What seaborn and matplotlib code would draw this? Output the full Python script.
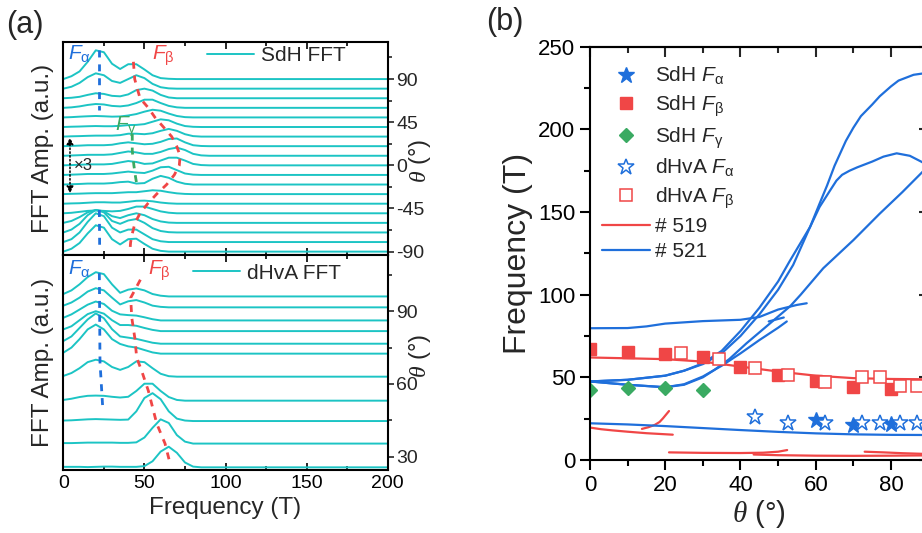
import pandas as pd
import seaborn as sns
import matplotlib.pyplot as plt
from matplotlib.lines import Line2D
from matplotlib.ticker import MultipleLocator

# ---------------- data ----------------
# frequency grid of the traced FFT spectra (T); all traces are flat beyond 90 T
freq = [0, 5, 10, 15, 20, 25, 30, 35, 40, 45, 50, 55, 60, 65, 70, 75, 80, 85, 90]
freq_end = 200

# SdH FFT traces, offset by angle (deg); amplitudes in units of the right axis
sdh_theta = [90, 80, 70, 60, 50, 40, 30, 20, 10, 0, -10, -20, -30, -40, -50, -60, -70, -80, -90]
sdh_amp = [
    [0, 3, 8, 18, 30, 28, 16, 10.5, 15.5, 15.5, 10, 4, 1, 0.3, 0, 0, 0, 0, 0],
    [0, 2, 6, 12, 16, 14, 8, 6, 10, 14, 11, 5, 1.5, 0.3, 0, 0, 0, 0, 0],
    [0, 0.5, 1.5, 3.5, 5.2, 4.5, 2.5, 2, 4, 8.5, 10, 8, 3.5, 0.8, 0, 0, 0, 0, 0],
    [0, 0.5, 1.5, 3, 4, 3.5, 2, 1.5, 2.5, 5, 8.5, 8.5, 5, 2, 0.5, 0, 0, 0, 0],
    [0, 0.3, 0.8, 1.2, 1.5, 1.2, 0.8, 1, 2, 3.5, 6, 8, 7, 4, 1.5, 0.3, 0, 0, 0],
    [0, 0.3, 0.5, 0.8, 1, 0.8, 0.8, 1.2, 2, 2.2, 3, 5.5, 8, 7, 3.5, 1, 0.2, 0, 0],
    [0, 0.3, 0.5, 0.8, 1, 1, 1, 1.5, 3, 3, 2.5, 3.5, 6, 8, 6, 2.5, 0.5, 0, 0],
    [0, 0.3, 0.6, 1, 1, 1, 1.5, 3, 4, 3, 2, 2.5, 4.5, 7.5, 8, 4, 1, 0.2, 0],
    [0, 0.3, 0.6, 1, 1, 1, 1.5, 3, 4.5, 3.5, 2, 2, 4, 7, 8.5, 6, 2, 0.4, 0],
    [0, 0.3, 0.6, 1, 1, 1, 1.5, 3, 4.5, 3.5, 1.5, 2, 5, 8, 8, 5, 1.5, 0.3, 0],
    [0, 0.3, 0.6, 1, 1, 1, 1.5, 2.5, 3.5, 2.5, 2, 4.5, 8, 8.5, 5, 1.5, 0.3, 0, 0],
    [0, 0.3, 0.6, 1, 1, 1, 1.5, 2.5, 3, 1, 1.5, 6, 9, 7, 3, 0.8, 0, 0, 0],
    [0, 0.3, 0.5, 0.8, 1, 1, 1, 1.5, 2, 2, 3, 4, 3.5, 2, 0.8, 0.2, 0, 0, 0],
    [0, 0.3, 0.5, 1, 1.5, 1.5, 1.2, 1.2, 2, 3, 3.2, 2.5, 1.2, 0.4, 0, 0, 0, 0, 0],
    [0, 0.5, 1.5, 2.5, 3, 2.5, 2, 2.5, 4.5, 7, 7, 4.5, 2, 0.6, 0, 0, 0, 0, 0],
    [0, 2, 6, 11, 13.5, 12, 7, 5, 8, 10, 8, 4, 1.5, 0.3, 0, 0, 0, 0, 0],
    [0, 3, 9, 18, 23.5, 21, 12, 9, 12.5, 14, 10, 4.5, 1.5, 0.3, 0, 0, 0, 0, 0],
    [0, 3, 10, 21, 30, 27, 15, 10, 13, 13, 8, 3, 0.8, 0, 0, 0, 0, 0, 0],
    [0, 3, 9, 19, 27.5, 25, 13, 7.5, 13, 13.5, 8, 3, 0.8, 0, 0, 0, 0, 0, 0],
]

# dHvA FFT traces
dhva_theta = [96.1, 91.6, 86.2, 81.8, 76.6, 72.5, 63, 53.1, 44.7, 35.4, 25.6]
dhva_amp = [
    [1, 2.5, 5, 8, 10, 9.2, 5, 1.5, 2.8, 3.3, 2.5, 1, 0.3, 0, 0, 0, 0, 0, 0],
    [0.7, 2, 4, 6.5, 7.9, 7, 4, 1.2, 2.5, 3, 2, 0.7, 0.2, 0, 0, 0, 0, 0, 0],
    [1.1, 2.5, 4.5, 6.5, 7.8, 6.8, 4, 2.5, 2.2, 2, 1.3, 0.5, 0, 0, 0, 0, 0, 0, 0],
    [0.7, 2, 4.5, 7, 8.2, 7.2, 4.5, 2.5, 2.5, 2.2, 1.3, 0.5, 0, 0, 0, 0, 0, 0, 0],
    [1.1, 3, 6.5, 10, 12.5, 10.5, 6, 3, 2.5, 2, 1.2, 0.4, 0, 0, 0, 0, 0, 0, 0],
    [0.4, 2.5, 6, 10, 12, 10, 6, 4, 3, 2.5, 1.5, 0.5, 0, 0, 0, 0, 0, 0, 0],
    [0.3, 1.5, 3.5, 6, 7, 6.3, 4, 2.8, 4, 6.3, 6, 3.5, 1.2, 0.2, 0, 0, 0, 0, 0],
    [0.3, 0.8, 1.5, 2, 2.1, 2, 1.6, 1.3, 1.6, 4, 7, 7, 4, 1.5, 0.3, 0, 0, 0, 0],
    [0.2, 0.3, 0.5, 0.7, 0.8, 0.7, 0.6, 0.5, 0.6, 4, 9.5, 11.5, 9, 4, 1, 0.2, 0, 0, 0],
    [0.2, 0.2, 0.3, 0.4, 0.4, 0.4, 0.4, 0.3, 0.3, 0.5, 2.5, 6.5, 10, 8.5, 3.5, 0.8, 0, 0, 0],
    [0.2, 0.2, 0.2, 0.1, 0.2, 0.3, 0.3, 0.2, 0.2, 0.2, 0.5, 2.5, 6.5, 8.5, 6, 2, 0.3, 0, 0],
]

# dashed guide lines (freq, theta)
sdh_fa_guide = [([22.2, 22.2], [120.6, 58]), ([22.2, 22.4], [-46.6, -88.3])]
sdh_fb_guide_f = [43.2, 44, 45.6, 47.3, 52.4, 56.5, 61.7, 66.8, 69.9, 72, 71.5, 68.4, 63.7, 57.5, 52, 47.3, 44.2, 42.7, 41.5, 41.1]
sdh_fb_guide_t = [108, 90, 80, 70, 60, 50, 40, 30, 20, 10, 0, -10, -20, -30, -40, -50, -60, -70, -80, -88]
sdh_fg_guide_f = [42.5, 42.5, 43.5, 44.5, 45.5]
sdh_fg_guide_t = [33, 15, 0, -12, -22]
dhva_fa_guide_f = [22.2, 22.6, 24.3]
dhva_fa_guide_t = [105.7, 69, 50]
dhva_fb_guide_f = [47.5, 41.5, 42.2, 44.2, 45.2, 48.3, 52.4, 57.6, 62.7, 65.8]
dhva_fb_guide_t = [103, 95.5, 87.3, 78.4, 70.9, 65.4, 57.2, 43.6, 35.4, 27.2]

# panel (b): measured frequencies vs angle
sdh_fa_theta = [60, 70, 80]
sdh_fa = [24.2, 21.2, 21.6]
sdh_fb_theta = [0, 10, 20, 30, 40, 50, 60, 70, 80]
sdh_fb = [67, 65.5, 64, 62.5, 56, 51.5, 48, 44, 43]
sdh_fg_theta = [0, 10, 20, 30]
sdh_fg = [42.3, 43.4, 43.8, 42.3]
dhva_fa_theta = [43.9, 52.6, 62.5, 72.4, 77, 82.3, 87]
dhva_fa = [25.8, 22.2, 22.6, 22.2, 22.2, 22.2, 22.2]
dhva_fb_theta = [24.3, 34.2, 43.9, 52.6, 62.5, 72.4, 77, 82.3, 87]
dhva_fb = [65, 61.3, 55.9, 51.4, 47, 50.4, 50.4, 44.6, 44.6]

# calculated branches (theta, F) for the two samples
branches_519 = [
    ([0, 10, 20, 30, 40, 50, 60, 70, 80, 90], [62, 61.5, 61, 59.5, 56.5, 53.5, 51, 49.5, 49, 48.8]),
    ([0, 3, 6, 10, 15, 22], [19.6, 18.6, 17.9, 17.1, 16.2, 15.3]),
    ([13.8, 15.5, 17.2, 18.5, 19.4, 21], [18.8, 19.8, 21.2, 23, 25.2, 29.6]),
    ([21, 30, 40, 46, 50, 52.4], [4.6, 4.3, 4.2, 4.4, 5, 6]),
    ([43.5, 50, 60, 70, 80, 90], [3.3, 2.9, 2.6, 2.5, 2.6, 2.8]),
    ([73, 78, 83, 90], [5, 4.6, 4.1, 3.6]),
]
branches_521 = [
    ([0, 10, 20, 30, 40, 50, 60, 70, 80, 90], [22.2, 21.5, 20.5, 19.3, 18.1, 17, 16.1, 15.5, 15.2, 15.1]),
    ([0, 10, 15, 20, 30, 40, 45, 50, 55, 57.6], [79.7, 79.8, 80.8, 82.5, 84, 84.8, 86.5, 91, 93.8, 94.8]),
    ([0, 10, 20, 25, 30, 35, 40, 45, 50, 53, 58.5, 61, 63, 65, 68, 70, 72, 75, 77, 80, 82, 86, 90],
     [47.5, 48.5, 51, 54, 58.5, 66, 78, 92, 108, 120, 141, 155, 166, 178, 193, 201, 208, 215, 220, 226, 229.5, 233, 234.3]),
    ([0, 10, 20, 25, 30, 35, 40, 45, 50, 54, 58.5, 61, 63.8, 65.5, 67, 69, 71, 75, 78, 81.5, 85, 88, 90],
     [47.5, 48.5, 51, 54, 58, 64.5, 75, 88, 103, 118, 141, 153, 163, 169, 172.5, 175, 177, 180.5, 183.5, 185.5, 184, 180.5, 178]),
    ([0, 10, 20, 25, 30, 33, 37, 41.6, 47, 53.2, 56, 62, 70, 77, 83, 90],
     [47.5, 45.5, 44, 45.5, 50, 54.4, 61, 70.6, 81, 93, 100, 116, 133, 149, 162, 178]),
    ([0, 10, 20, 25, 30, 35, 40, 45, 50, 52.3], [47.5, 45.5, 44, 45.8, 50.5, 57, 64.5, 72.5, 80, 83.8]),
    ([47.5, 49.5, 51.5], [83.8, 85, 86.2]),
]

CYAN = '#1CC4C4'
BLUE = '#1F6FDB'
RED = '#F04646'
GREEN = '#3AAA62'

sns.set_theme(style='ticks')
plt.rcParams['font.family'] = ['Liberation Sans', 'DejaVu Sans']
plt.rcParams['mathtext.fontset'] = 'custom'
plt.rcParams['mathtext.rm'] = 'Liberation Sans'
plt.rcParams['mathtext.it'] = 'Liberation Sans:italic'
plt.rcParams['mathtext.cal'] = 'Liberation Serif:italic'
plt.rcParams['axes.unicode_minus'] = False
plt.rcParams['axes.linewidth'] = 1.5
plt.rcParams['axes.edgecolor'] = 'black'

THETA = r'$\mathcal{\theta}$ (°)'


def spectra_frame(thetas, amps):
    rows = []
    for th, amp in zip(thetas, amps):
        for f, a in zip(freq + [freq_end], amp + [0]):
            rows.append((f, th + a, th))
    return pd.DataFrame(rows, columns=['freq', 'y', 'theta'])


def style_fft_axis(ax, ylim, major, minor, labelbottom):
    ax.set_xlim(0, 200)
    ax.set_ylim(*ylim)
    ax.xaxis.set_major_locator(MultipleLocator(50))
    ax.xaxis.set_minor_locator(MultipleLocator(25))
    ax.yaxis.set_major_locator(MultipleLocator(major))
    ax.yaxis.set_minor_locator(MultipleLocator(minor))
    ax.tick_params(axis='x', which='both', direction='in', top=True, bottom=True,
                   labelbottom=labelbottom, labelsize=14, width=1.2, colors='black')
    ax.tick_params(axis='x', which='major', length=5)
    ax.tick_params(axis='x', which='minor', length=3)
    ax.tick_params(axis='y', which='both', left=False, labelleft=False, right=True,
                   labelright=True, direction='out', labelsize=14, width=1.2, pad=2)
    ax.tick_params(axis='y', which='major', length=4)
    ax.tick_params(axis='y', which='minor', length=3)
    ax.set_xlabel('')
    ax.set_ylabel('')
    ax.text(-0.062, 0.5, 'FFT Amp. (a.u.)', transform=ax.transAxes, rotation=90,
            ha='center', va='center', fontsize=17.5)
    for s in ax.spines.values():
        s.set_linewidth(1.5)


fig = plt.figure(figsize=(9.22, 5.33), dpi=100)
ax_sdh = fig.add_axes([0.0687, 0.5216, 0.3518, 0.4002])
ax_dhva = fig.add_axes([0.0687, 0.1182, 0.3518, 0.4034])
ax_b = fig.add_axes([0.6399, 0.1370, 0.3673, 0.7754])

# ---------------- panel (a) top : SdH ----------------
sns.lineplot(data=spectra_frame(sdh_theta, sdh_amp), x='freq', y='y', units='theta',
             estimator=None, sort=False, color=CYAN, lw=1.4, ax=ax_sdh, legend=False)
for gf, gt in sdh_fa_guide:
    ax_sdh.plot(gf, gt, color=BLUE, lw=2, dashes=(2.5, 2.5))
ax_sdh.plot(sdh_fb_guide_f, sdh_fb_guide_t, color=RED, lw=2, dashes=(2.5, 2.5))
ax_sdh.plot(sdh_fg_guide_f, sdh_fg_guide_t, color=GREEN, lw=2, dashes=(2.5, 2.5))
style_fft_axis(ax_sdh, (-93.5, 129), 45, 22.5, False)
ax_sdh.text(2.9, 110, r'$F_\mathrm{\alpha}$', color=BLUE, fontsize=15, va='baseline')
ax_sdh.text(54.8, 110, r'$F_\mathrm{\beta}$', color=RED, fontsize=15, va='baseline')
ax_sdh.text(31.9, 36, r'$F_\mathrm{\gamma}$', color=GREEN, fontsize=15, va='baseline')
ax_sdh.text(1.1, 0.44, THETA, transform=ax_sdh.transAxes, rotation=90,
            ha='center', va='center', fontsize=17)
ax_sdh.annotate('', xy=(4.1, 32), xytext=(4.1, -32),
                arrowprops=dict(arrowstyle='<|-|>', color='black', lw=1.1,
                                linestyle=(0, (1, 1.5)), mutation_scale=10))
ax_sdh.text(6.5, -0.5, '×3', fontsize=12, va='center')
ax_sdh.legend(handles=[Line2D([], [], color=CYAN, lw=1.4)], labels=['SdH FFT'],
              loc='center left', bbox_to_anchor=(0.443, 0.935), frameon=False,
              fontsize=15, handlelength=2.25, handletextpad=0.33,
              borderpad=0, borderaxespad=0)

# ---------------- panel (a) bottom : dHvA ----------------
sns.lineplot(data=spectra_frame(dhva_theta, dhva_amp), x='freq', y='y', units='theta',
             estimator=None, sort=False, color=CYAN, lw=1.4, ax=ax_dhva, legend=False)
ax_dhva.plot(dhva_fa_guide_f, dhva_fa_guide_t, color=BLUE, lw=2, dashes=(2.5, 2.5))
ax_dhva.plot(dhva_fb_guide_f, dhva_fb_guide_t, color=RED, lw=2, dashes=(2.5, 2.5))
style_fft_axis(ax_dhva, (24.5, 113.2), 30, 15, True)
ax_dhva.set_xlabel('Frequency (T)', fontsize=17.5, labelpad=4)
ax_dhva.text(2.9, 105, r'$F_\mathrm{\alpha}$', color=BLUE, fontsize=15, va='baseline')
ax_dhva.text(52.2, 105, r'$F_\mathrm{\beta}$', color=RED, fontsize=15, va='baseline')
ax_dhva.text(1.1, 0.53, THETA, transform=ax_dhva.transAxes, rotation=90,
             ha='center', va='center', fontsize=17)
ax_dhva.legend(handles=[Line2D([], [], color=CYAN, lw=1.4)], labels=['dHvA FFT'],
               loc='center left', bbox_to_anchor=(0.40, 0.915), frameon=False,
               fontsize=15, handlelength=2.25, handletextpad=0.33,
               borderpad=0, borderaxespad=0)

# ---------------- panel (b) ----------------
rows = []
for name, branches in (('# 519', branches_519), ('# 521', branches_521)):
    for i, (th, fr) in enumerate(branches):
        for t, f in zip(th, fr):
            rows.append((t, f, name, f'{name}-{i}'))
calc = pd.DataFrame(rows, columns=['theta', 'F', 'sample', 'branch'])
sns.lineplot(data=calc, x='theta', y='F', hue='sample', units='branch', estimator=None,
             sort=False, palette={'# 519': RED, '# 521': BLUE}, lw=1.6, ax=ax_b, legend=False)

ax_b.plot(sdh_fa_theta, sdh_fa, ls='none', marker='*', ms=12, color=BLUE, mec=BLUE)
ax_b.plot(sdh_fb_theta, sdh_fb, ls='none', marker='s', ms=8, color=RED, mec=RED)
ax_b.plot(sdh_fg_theta, sdh_fg, ls='none', marker='D', ms=7.5, color=GREEN, mec=GREEN)
ax_b.plot(dhva_fa_theta, dhva_fa, ls='none', marker='*', ms=12, mfc='white', mec=BLUE, mew=1.1)
ax_b.plot(dhva_fb_theta, dhva_fb, ls='none', marker='s', ms=8, mfc='white', mec=RED, mew=1.1)

ax_b.set_xlim(0, 90)
ax_b.set_ylim(0, 250)
ax_b.xaxis.set_major_locator(MultipleLocator(20))
ax_b.xaxis.set_minor_locator(MultipleLocator(10))
ax_b.yaxis.set_major_locator(MultipleLocator(50))
ax_b.yaxis.set_minor_locator(MultipleLocator(25))
ax_b.tick_params(which='both', labelsize=16, width=1.5, colors='black')
ax_b.tick_params(which='major', length=7)
ax_b.tick_params(which='minor', length=4)
ax_b.tick_params(axis='x', which='both', direction='out', bottom=True, top=False)
ax_b.tick_params(axis='y', which='both', direction='out', left=True, right=False)
top = ax_b.secondary_xaxis('top')
top.xaxis.set_major_locator(MultipleLocator(20))
top.xaxis.set_minor_locator(MultipleLocator(10))
top.tick_params(which='major', direction='in', length=7, width=1.5, labeltop=False)
top.tick_params(which='minor', direction='in', length=4, width=1.5)
right = ax_b.secondary_yaxis('right')
right.yaxis.set_major_locator(MultipleLocator(50))
right.yaxis.set_minor_locator(MultipleLocator(25))
right.tick_params(which='major', direction='in', length=7, width=1.5, labelright=False)
right.tick_params(which='minor', direction='in', length=4, width=1.5)
ax_b.set_xlabel(THETA, fontsize=21, labelpad=2)
ax_b.set_ylabel('Frequency (T)', fontsize=23, labelpad=4)

handles = [
    Line2D([], [], ls='none', marker='*', ms=12, color=BLUE),
    Line2D([], [], ls='none', marker='s', ms=8, color=RED),
    Line2D([], [], ls='none', marker='D', ms=7.5, color=GREEN),
    Line2D([], [], ls='none', marker='*', ms=12, mfc='white', mec=BLUE, mew=1.1),
    Line2D([], [], ls='none', marker='s', ms=8, mfc='white', mec=RED, mew=1.1),
    Line2D([], [], color=RED, lw=1.6),
    Line2D([], [], color=BLUE, lw=1.6),
]
labels = [r'SdH $F_\mathrm{\alpha}$', r'SdH $F_\mathrm{\beta}$', r'SdH $F_\mathrm{\gamma}$',
          r'dHvA $F_\mathrm{\alpha}$', r'dHvA $F_\mathrm{\beta}$', '# 519', '# 521']
ax_b.legend(handles=handles, labels=labels, loc='upper left', bbox_to_anchor=(0.0346, 0.956),
            frameon=False, fontsize=15, handlelength=2.32, handletextpad=0.25,
            labelspacing=0.3, borderpad=0, borderaxespad=0)

fig.text(0.027, 0.953, '(a)', fontsize=22, ha='center', va='center')
fig.text(0.548, 0.959, '(b)', fontsize=22, ha='center', va='center')

fig.savefig('out.png', dpi=100)
